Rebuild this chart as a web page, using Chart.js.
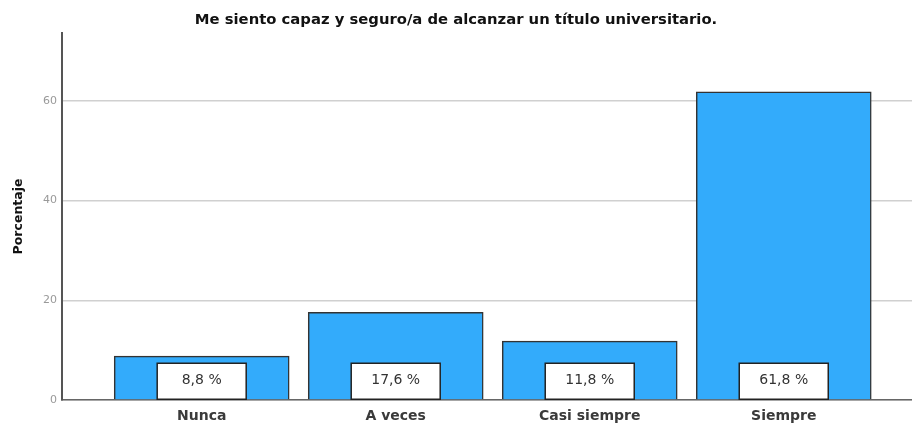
<!DOCTYPE html>
<html lang="es">
<head>
<meta charset="UTF-8">
<title>Me siento capaz</title>
<script src="https://cdn.jsdelivr.net/npm/chart.js"></script>
<style>
  html, body { margin: 0; padding: 0; background: #fff; overflow: hidden; }
  #wrap { width: 912px; height: 423px; position: relative; }
</style>
</head>
<body>
<div id="wrap"><canvas id="chart"></canvas></div>
<script>
const categories = ['Nunca', 'A veces', 'Casi siempre', 'Siempre'];
const percentages = [8.8, 17.6, 11.8, 61.8];
const yTicks = [0, 20, 40, 60];

const FONT = '"DejaVu Sans", "Liberation Sans", sans-serif';

// white label boxes sitting on the base of each bar
const boxLabels = {
  id: 'boxLabels',
  afterDatasetsDraw(chart) {
    const ctx = chart.ctx;
    const meta = chart.getDatasetMeta(0);
    ctx.save();
    meta.data.forEach((bar, i) => {
      const w = 89, h = 36;
      const x = bar.x - w / 2, y = bar.base - h;
      ctx.fillStyle = '#fff';
      ctx.fillRect(x, y, w, h);
      ctx.strokeStyle = '#222';
      ctx.lineWidth = 1.5;
      ctx.strokeRect(x, y, w, h);
      ctx.fillStyle = '#333';
      ctx.font = '14px ' + FONT;
      ctx.textAlign = 'center';
      ctx.textBaseline = 'middle';
      ctx.fillText(percentages[i].toFixed(1).replace('.', ',') + ' %', bar.x, y + h / 2 - 1);
    });
    ctx.restore();
  }
};

new Chart(document.getElementById('chart'), {
  type: 'bar',
  data: {
    datasets: [{
      data: categories.map((c, i) => ({ x: i, y: percentages[i] })),
      backgroundColor: '#33abfb',
      borderColor: '#333',
      borderWidth: 1.5,
      barThickness: 175
    }]
  },
  options: {
    responsive: true,
    maintainAspectRatio: false,
    animation: false,
    layout: { padding: 0 },
    plugins: {
      legend: { display: false },
      tooltip: { enabled: false },
      title: {
        display: true,
        text: 'Me siento capaz y seguro/a de alcanzar un título universitario.',
        color: '#111',
        font: { family: FONT, size: 14.8, weight: 'bold' },
        padding: { top: 11.5, bottom: 3.7 }
      }
    },
    scales: {
      x: {
        type: 'linear',
        offset: false,
        min: -0.72,
        max: 3.661,
        afterBuildTicks: s => { s.ticks = categories.map((c, i) => ({ value: i })); },
        afterFit: s => { s.height = 23; },
        grid: { display: false },
        border: { color: '#666', width: 1.5 },
        ticks: {
          callback: v => categories[v] || '',
          color: '#3a3a3a',
          font: { family: FONT, size: 14, weight: 'bold' },
          padding: 0,
          maxRotation: 0,
          autoSkip: false
        }
      },
      y: {
        min: 0,
        max: 73.6,
        afterBuildTicks: s => { s.ticks = yTicks.map(v => ({ value: v })); },
        afterFit: s => { s.width = 62; },
        grid: { color: '#d0d0d0', lineWidth: 1.5, drawTicks: false },
        border: { color: '#555', width: 2 },
        title: {
          display: true,
          text: 'Porcentaje',
          color: '#111',
          font: { family: FONT, size: 12.5, weight: 'bold' },
          padding: { top: 11, bottom: 0 }
        },
        ticks: {
          color: '#999',
          font: { family: FONT, size: 11 },
          padding: 5
        }
      }
    }
  },
  plugins: [boxLabels]
});
</script>
</body>
</html>
